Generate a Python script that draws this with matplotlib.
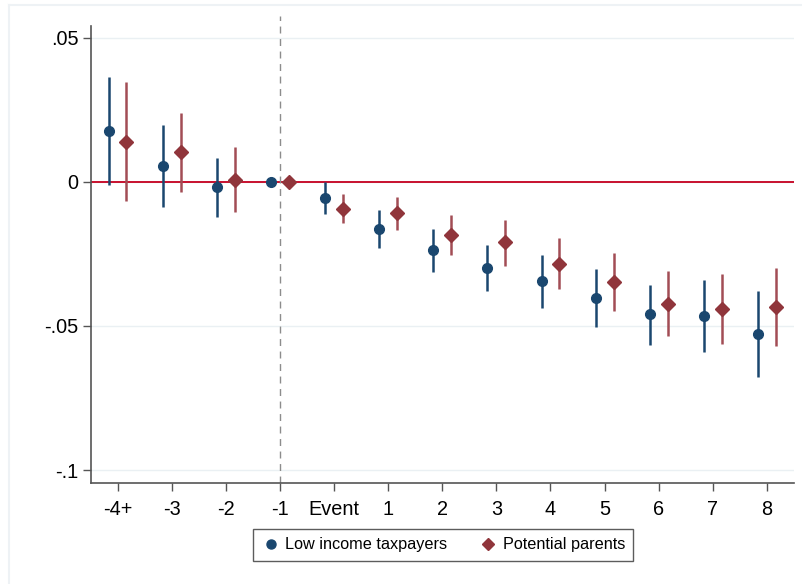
import matplotlib
matplotlib.use("Agg")
import matplotlib.pyplot as plt
from matplotlib.lines import Line2D
import numpy as np

plt.rcParams['font.family'] = ['Liberation Sans', 'DejaVu Sans']

categories = ["-4+", "-3", "-2", "-1", "Event", "1", "2", "3", "4", "5", "6", "7", "8"]

low_est = [0.0177, 0.0057, -0.0017, 0.0, -0.0057, -0.0163, -0.0236, -0.0297, -0.0345, -0.0402, -0.0460, -0.0466, -0.0527]
low_hi = [0.0365, 0.0199, 0.0084, 0.0, 0.0000, -0.0096, -0.0163, -0.0220, -0.0253, -0.0303, -0.0357, -0.0341, -0.0380]
low_lo = [-0.0012, -0.0087, -0.0120, 0.0, -0.0112, -0.0231, -0.0314, -0.0378, -0.0437, -0.0503, -0.0566, -0.0591, -0.0676]

par_est = [0.0140, 0.0103, 0.0008, 0.0, -0.0093, -0.0109, -0.0184, -0.0210, -0.0284, -0.0348, -0.0422, -0.0440, -0.0433]
par_hi = [0.0346, 0.0240, 0.0120, 0.0, -0.0042, -0.0052, -0.0115, -0.0131, -0.0195, -0.0247, -0.0309, -0.0320, -0.0300]
par_lo = [-0.0065, -0.0036, -0.0103, 0.0, -0.0144, -0.0166, -0.0253, -0.0292, -0.0373, -0.0448, -0.0534, -0.0562, -0.0569]

yticks = [0.05, 0.0, -0.05, -0.1]
ytick_labels = [".05", "0", "-.05", "-.1"]

blue = "#1a476f"
red = "#90353b"
red_ci = "#a24d55"

fig = plt.figure(figsize=(8.02, 5.84), dpi=100)
ax = fig.add_axes([91/802, 1-483/584, (794-91)/802, (483-16)/584])

x = np.arange(len(categories))
off = 0.165

# gridlines
for yv in yticks:
    ax.axhline(yv, color="#eaf0f3", lw=1.0, zorder=0)

ax.axhline(0, color="#c8102e", lw=1.4, zorder=1)
ax.axvline(3, color="#8c8c8c", lw=1.0, ls=(0, (5, 4)), zorder=1)

lo_b = np.array(low_lo); hi_b = np.array(low_hi)
lo_r = np.array(par_lo); hi_r = np.array(par_hi)
mask_b = hi_b != lo_b
mask_r = hi_r != lo_r
ax.vlines(x[mask_b] - off, lo_b[mask_b], hi_b[mask_b], color=blue, lw=1.8, zorder=2)
ax.vlines(x[mask_r] + off, lo_r[mask_r], hi_r[mask_r], color=red_ci, lw=1.8, zorder=2)
ax.plot(x - off, low_est, 'o', color=blue, ms=7, zorder=3)
ax.plot(x + off, par_est, 'D', color=red, ms=7, zorder=3)

ax.set_xlim(-0.49, 12.5)
ax.set_ylim(-0.1045, 0.0576)
ax.set_xticks(x)
ax.set_xticklabels(categories, fontsize=14.3)
ax.set_yticks(yticks)
ax.set_yticklabels(ytick_labels, fontsize=14.3)
ax.tick_params(axis='both', length=6, width=1.0, color="#555555")
ax.tick_params(axis='x', pad=6)
ax.tick_params(axis='y', pad=3)
for s in ["top", "right"]:
    ax.spines[s].set_visible(False)
ax.spines["left"].set_bounds(-0.1045, 0.0542)
for s in ["left", "bottom"]:
    ax.spines[s].set_color("#555555")
    ax.spines[s].set_linewidth(1.2)

handles = [
    Line2D([], [], marker='o', color=blue, ls='none', ms=6.5),
    Line2D([], [], marker='D', color=red, ls='none', ms=6.5),
]
leg = fig.legend(handles, ["Low income taxpayers", "Potential parents"],
                 loc="center", bbox_to_anchor=(443/802, 1-545/584), ncol=2,
                 fontsize=11.7, frameon=True, fancybox=False, edgecolor="#333333",
                 handletextpad=0.3, columnspacing=1.9, handlelength=1.2,
                 borderpad=0.5)
leg.get_frame().set_linewidth(1.0)

# faint graph-region border
fig.add_artist(Line2D([9/802, 9/802], [0, 1-5/584], transform=fig.transFigure, color="#eef2f5", lw=1.5))
fig.add_artist(Line2D([9/802, 1], [1-5/584, 1-5/584], transform=fig.transFigure, color="#eef2f5", lw=1.5))

fig.savefig("out.png", dpi=100)
